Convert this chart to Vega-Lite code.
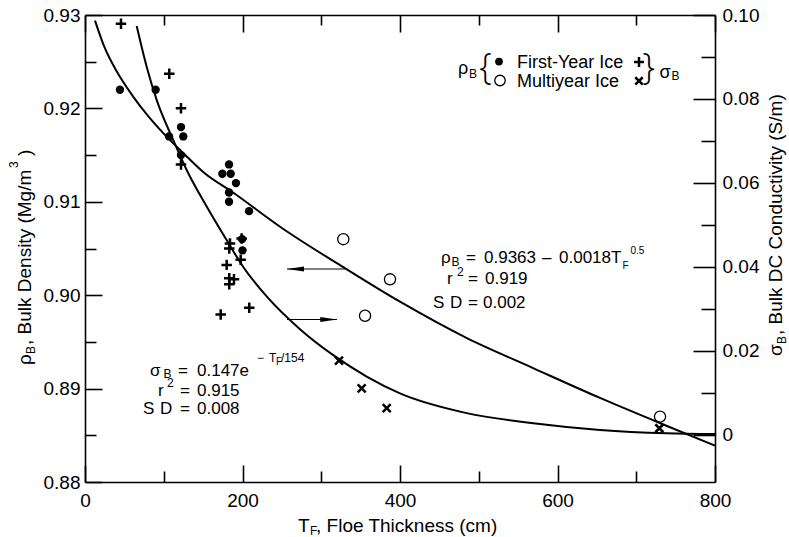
{
  "$schema": "https://vega.github.io/schema/vega-lite/v6.json",
  "autosize": "none",
  "width": 630,
  "height": 467,
  "padding": {"left": 85, "top": 15, "right": 74, "bottom": 55},
  "background": "white",
  "config": {
    "font": "Liberation Sans",
    "view": {"stroke": null},
    "axis": {"domainColor": "black", "domainWidth": 1.6, "tickColor": "black", "tickWidth": 1.6, "labelColor": "black", "labelFontSize": 19, "labelFont": "Liberation Sans", "grid": false, "labelFlush": false, "labelOverlap": false, "title": null},
    "text": {"color": "black"}
  },
  "datasets": {
    "rhoCurve": [
      {"T": 12.7, "rho": 0.9294}, {"T": 25, "rho": 0.9265}, {"T": 40, "rho": 0.9240}, {"T": 60, "rho": 0.9214},
      {"T": 80, "rho": 0.9192}, {"T": 100, "rho": 0.9173}, {"T": 125, "rho": 0.9152}, {"T": 150, "rho": 0.9132},
      {"T": 188, "rho": 0.9110}, {"T": 250, "rho": 0.9072}, {"T": 328, "rho": 0.9030}, {"T": 400, "rho": 0.8993},
      {"T": 485, "rho": 0.8954}, {"T": 569, "rho": 0.8922}, {"T": 654, "rho": 0.8890}, {"T": 739, "rho": 0.8860},
      {"T": 800, "rho": 0.8839}
    ],
    "sigmaCurve": [
      {"T": 65.6, "sigma": 0.0974}, {"T": 78.3, "sigma": 0.0877}, {"T": 91.0, "sigma": 0.0798}, {"T": 112.1, "sigma": 0.0702},
      {"T": 129.1, "sigma": 0.0631}, {"T": 154.5, "sigma": 0.0544}, {"T": 179.9, "sigma": 0.0464}, {"T": 201.0, "sigma": 0.0400},
      {"T": 230.7, "sigma": 0.0330}, {"T": 273.0, "sigma": 0.0252}, {"T": 315.3, "sigma": 0.0190}, {"T": 357.7, "sigma": 0.0139},
      {"T": 400, "sigma": 0.0099}, {"T": 484.7, "sigma": 0.0052}, {"T": 569.3, "sigma": 0.0028}, {"T": 654, "sigma": 0.0012},
      {"T": 738.7, "sigma": 0.0004}, {"T": 800, "sigma": 0.0002}
    ],
    "fyRho": [
      {"T": 44.4, "rho": 0.922}, {"T": 89.7, "rho": 0.922}, {"T": 106.7, "rho": 0.917}, {"T": 121.9, "rho": 0.918},
      {"T": 124.8, "rho": 0.917}, {"T": 121.9, "rho": 0.915}, {"T": 174.4, "rho": 0.913}, {"T": 182.9, "rho": 0.914},
      {"T": 185, "rho": 0.913}, {"T": 191.7, "rho": 0.912}, {"T": 182.9, "rho": 0.911}, {"T": 182.9, "rho": 0.910},
      {"T": 208.3, "rho": 0.909}, {"T": 199.5, "rho": 0.906}, {"T": 200, "rho": 0.9048}
    ],
    "myRho": [
      {"T": 328, "rho": 0.906}, {"T": 387.3, "rho": 0.9017}, {"T": 355.6, "rho": 0.8978}, {"T": 730.2, "rho": 0.887}
    ],
    "fySigma": [
      {"T": 45.7, "sigma": 0.0979}, {"T": 107.0, "sigma": 0.0860}, {"T": 121.9, "sigma": 0.0778}, {"T": 121.9, "sigma": 0.0644},
      {"T": 184.1, "sigma": 0.0456}, {"T": 183.2, "sigma": 0.0444}, {"T": 198.9, "sigma": 0.0468}, {"T": 197.7, "sigma": 0.0417},
      {"T": 179.9, "sigma": 0.0405}, {"T": 183.2, "sigma": 0.0373}, {"T": 189.2, "sigma": 0.0371}, {"T": 183.2, "sigma": 0.0359},
      {"T": 208.6, "sigma": 0.0303}, {"T": 172.3, "sigma": 0.0287}
    ],
    "mySigma": [
      {"T": 322.5, "sigma": 0.0177}, {"T": 351.3, "sigma": 0.0111}, {"T": 383.1, "sigma": 0.0064}, {"T": 729.3, "sigma": 0.0016}
    ],
    "arrowLines": [
      {"T": 256.5, "T2": 330, "rho": 0.902805}, {"T": 256.5, "T2": 320, "rho": 0.897398}
    ],
    "arrowLeft": [{"T": 267.3, "rho": 0.902805}],
    "arrowRight": [{"T": 309.5, "rho": 0.897398}],
    "legDot": [{"T": 525.71, "rho": 0.925021}],
    "legCircle": [{"T": 526.98, "rho": 0.922987}],
    "legPlus": [{"T": 703.49, "rho": 0.924968}],
    "legX": [{"T": 703.49, "rho": 0.922934}],
    "legText": [
      {"T": 473.65, "rho": 0.923683, "txt": "ρ"},
      {"T": 548.57, "rho": 0.924325, "txt": "First-Year Ice"},
      {"T": 548.57, "rho": 0.922238, "txt": "Multiyear Ice"},
      {"T": 729.52, "rho": 0.923308, "txt": "σ"}
    ],
    "braces": [
      {"T": 508.57, "rho": 0.923105, "txt": "{"},
      {"T": 715.56, "rho": 0.923105, "txt": "}"}
    ],
    "eqMain": [
      {"T": 82.54, "rho": 0.891349, "txt": "σ"},
      {"T": 118.10, "rho": 0.891349, "txt": "="},
      {"T": 142.22, "rho": 0.891349, "txt": "0.147e"},
      {"T": 92.70, "rho": 0.889208, "txt": "r"},
      {"T": 120.63, "rho": 0.889208, "txt": "="},
      {"T": 142.22, "rho": 0.889208, "txt": "0.915"},
      {"T": 73.65, "rho": 0.887281, "txt": "S"},
      {"T": 95.24, "rho": 0.887281, "txt": "D"},
      {"T": 120.63, "rho": 0.887281, "txt": "="},
      {"T": 142.22, "rho": 0.887281, "txt": "0.008"},
      {"T": 452.06, "rho": 0.903448, "txt": "ρ"},
      {"T": 483.81, "rho": 0.903448, "txt": "="},
      {"T": 506.67, "rho": 0.903448, "txt": "0.9363"},
      {"T": 580.32, "rho": 0.903448, "txt": "–"},
      {"T": 601.90, "rho": 0.903448, "txt": "0.0018T"},
      {"T": 459.68, "rho": 0.901199, "txt": "r"},
      {"T": 486.35, "rho": 0.901199, "txt": "="},
      {"T": 507.94, "rho": 0.901199, "txt": "0.919"},
      {"T": 441.90, "rho": 0.898630, "txt": "S"},
      {"T": 463.49, "rho": 0.898630, "txt": "D"},
      {"T": 486.35, "rho": 0.898630, "txt": "="},
      {"T": 505.40, "rho": 0.898630, "txt": "0.002"}
    ],
    "small": [
      {"T": 99.68, "rho": 0.891135, "txt": "B"},
      {"T": 218.41, "rho": 0.892816, "txt": "−"},
      {"T": 233.65, "rho": 0.892816, "txt": "T"},
      {"T": 248.89, "rho": 0.892816, "txt": "/154"},
      {"T": 104.13, "rho": 0.890139, "txt": "2"},
      {"T": 465.40, "rho": 0.903126, "txt": "B"},
      {"T": 472.38, "rho": 0.902056, "txt": "2"},
      {"T": 487.62, "rho": 0.923255, "txt": "B"},
      {"T": 744.76, "rho": 0.923040, "txt": "B"},
      {"T": 285.71, "rho": 0.874325, "txt": "F"}
    ],
    "tiny": [
      {"T": 242.54, "rho": 0.892527, "txt": "F"},
      {"T": 682.54, "rho": 0.902805, "txt": "F"},
      {"T": 692.70, "rho": 0.904379, "txt": "0.5"}
    ],
    "titleText": [
      {"T": 270.48, "rho": 0.874700, "txt": "T"},
      {"T": 293.33, "rho": 0.874700, "txt": ", Floe Thickness (cm)"}
    ],
    "titleRot": [
      {"T": -68.57, "rho": 0.892527, "txt": "ρ"},
      {"T": -68.57, "rho": 0.894668, "txt": ", Bulk Density (Mg/m"},
      {"T": -68.57, "rho": 0.914904, "txt": ")"},
      {"T": 885.08, "rho": 0.893490, "txt": "σ"},
      {"T": 885.08, "rho": 0.895739, "txt": ", Bulk DC Conductivity (S/m)"}
    ],
    "smallRot": [
      {"T": -63.49, "rho": 0.893704, "txt": "B"},
      {"T": -85.08, "rho": 0.913619, "txt": "3"},
      {"T": 890.16, "rho": 0.894775, "txt": "B"}
    ]
  },
  "layer": [
    {
      "encoding": {
        "x": {"field": "T", "type": "quantitative", "scale": {"domain": [0, 800], "nice": false, "zero": false},
          "axis": {"orient": "bottom", "values": [0, 100, 200, 300, 400, 500, 600, 700, 800], "format": "d",
            "labelExpr": "datum.value % 200 === 0 ? datum.label : ''",
            "tickSize": {"condition": {"test": "datum.value % 200 === 0", "value": -17}, "value": -11},
            "labelPadding": 26}},
        "y": {"field": "rho", "type": "quantitative", "scale": {"domain": [0.88, 0.93], "nice": false, "zero": false},
          "axis": {"orient": "left", "values": [0.88, 0.885, 0.89, 0.895, 0.9, 0.905, 0.91, 0.915, 0.92, 0.925, 0.93],
            "labelExpr": "round(datum.value*1000) % 10 === 0 ? format(datum.value, '.2f') : ''",
            "tickSize": {"condition": {"test": "round(datum.value*1000) % 10 === 0", "value": -17}, "value": -11},
            "labelPadding": 22}}
      },
      "layer": [
        {"data": {"name": "rhoCurve"}, "mark": {"type": "line", "color": "black", "strokeWidth": 2, "interpolate": "monotone"}},
        {"data": {"name": "fyRho"}, "mark": {"type": "point", "shape": "circle", "filled": true, "color": "black", "size": 70, "opacity": 1}},
        {"data": {"name": "myRho"}, "mark": {"type": "point", "shape": "circle", "filled": false, "stroke": "black", "strokeWidth": 1.3, "size": 125, "opacity": 1}},
        {"data": {"name": "arrowLines"}, "mark": {"type": "rule", "color": "black", "strokeWidth": 1}, "encoding": {"x2": {"field": "T2"}}},
        {"data": {"name": "arrowLeft"}, "mark": {"type": "point", "shape": "M-1,0L1,-0.28L1,0.28Z", "filled": true, "color": "black", "size": 289, "opacity": 1}},
        {"data": {"name": "arrowRight"}, "mark": {"type": "point", "shape": "M1,0L-1,-0.28L-1,0.28Z", "filled": true, "color": "black", "size": 289, "opacity": 1}},
        {"data": {"name": "legDot"}, "mark": {"type": "point", "shape": "circle", "filled": true, "color": "black", "size": 60, "opacity": 1}},
        {"data": {"name": "legCircle"}, "mark": {"type": "point", "shape": "circle", "filled": false, "stroke": "black", "strokeWidth": 1.3, "size": 110, "opacity": 1}},
        {"data": {"name": "legPlus"}, "mark": {"type": "point", "shape": "M-1,0L1,0M0,-1L0,1", "filled": false, "stroke": "black", "strokeWidth": 2.5, "size": 100, "opacity": 1}},
        {"data": {"name": "legX"}, "mark": {"type": "point", "shape": "M-1,-1L1,1M-1,1L1,-1", "filled": false, "stroke": "black", "strokeWidth": 2.5, "size": 56, "opacity": 1}},
        {"data": {"name": "legText"}, "mark": {"type": "text", "fontSize": 18, "align": "left", "baseline": "alphabetic"}, "encoding": {"text": {"field": "txt"}}},
        {"data": {"name": "braces"}, "mark": {"type": "text", "font": "Open Sans", "fontWeight": 300, "fontSize": 36, "align": "center", "baseline": "alphabetic"}, "encoding": {"text": {"field": "txt"}}},
        {"data": {"name": "eqMain"}, "mark": {"type": "text", "fontSize": 17, "align": "left", "baseline": "alphabetic"}, "encoding": {"text": {"field": "txt"}}},
        {"data": {"name": "small"}, "mark": {"type": "text", "fontSize": 12, "align": "left", "baseline": "alphabetic"}, "encoding": {"text": {"field": "txt"}}},
        {"data": {"name": "tiny"}, "mark": {"type": "text", "fontSize": 10, "align": "left", "baseline": "alphabetic"}, "encoding": {"text": {"field": "txt"}}},
        {"data": {"name": "titleText"}, "mark": {"type": "text", "fontSize": 19, "align": "left", "baseline": "alphabetic"}, "encoding": {"text": {"field": "txt"}}},
        {"data": {"name": "titleRot"}, "mark": {"type": "text", "fontSize": 19, "align": "left", "baseline": "alphabetic", "angle": 270}, "encoding": {"text": {"field": "txt"}}},
        {"data": {"name": "smallRot"}, "mark": {"type": "text", "fontSize": 12, "align": "left", "baseline": "alphabetic", "angle": 270}, "encoding": {"text": {"field": "txt"}}}
      ]
    },
    {
      "encoding": {
        "x": {"field": "T", "type": "quantitative", "scale": {"domain": [0, 800], "nice": false, "zero": false},
          "axis": {"orient": "top", "values": [0, 100, 200, 300, 400, 500, 600, 700, 800], "labels": false,
            "tickSize": {"condition": {"test": "datum.value % 200 === 0", "value": -17}, "value": -10}}},
        "y": {"field": "sigma", "type": "quantitative", "scale": {"domain": [-0.0112, 0.1], "nice": false, "zero": false},
          "axis": {"orient": "right", "values": [0, 0.01, 0.02, 0.03, 0.04, 0.05, 0.06, 0.07, 0.08, 0.09, 0.1],
            "labelExpr": "round(datum.value*100) % 2 === 0 ? (round(datum.value*100) === 0 ? '0' : format(datum.value, '.2f')) : ''",
            "tickSize": {"condition": {"test": "round(datum.value*100) % 2 === 0", "value": -22}, "value": -14},
            "labelPadding": 29}}
      },
      "layer": [
        {"data": {"name": "sigmaCurve"}, "mark": {"type": "line", "color": "black", "strokeWidth": 2, "interpolate": "monotone"}},
        {"data": {"name": "fySigma"}, "mark": {"type": "point", "shape": "M-1,0L1,0M0,-1L0,1", "filled": false, "stroke": "black", "strokeWidth": 2.5, "size": 110, "opacity": 1}},
        {"data": {"name": "mySigma"}, "mark": {"type": "point", "shape": "M-1,-1L1,1M-1,1L1,-1", "filled": false, "stroke": "black", "strokeWidth": 2.5, "size": 64, "opacity": 1}}
      ]
    }
  ],
  "resolve": {"scale": {"y": "independent"}, "axis": {"x": "independent", "y": "independent"}}
}
